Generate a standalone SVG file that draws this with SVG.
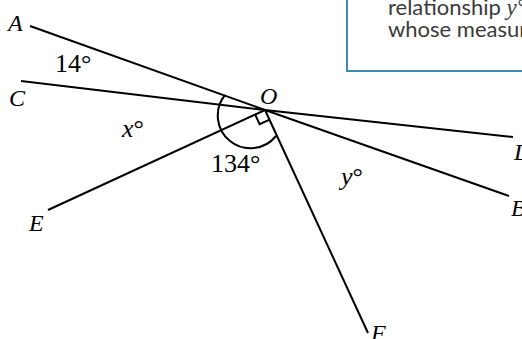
<svg xmlns="http://www.w3.org/2000/svg" width="522" height="339" viewBox="0 0 522 339">
<style>
.ln{stroke:#000;stroke-width:2;fill:none;stroke-linecap:butt}
.lbl{font-family:"Liberation Serif","DejaVu Serif",serif;font-style:italic;font-size:24px;fill:#000}
.num{font-family:"Liberation Serif","DejaVu Serif",serif;font-size:26px;fill:#000}
.it{font-style:italic}
.box{fill:#fff;stroke:#3a8cb8;stroke-width:2}
.bt{font-family:Lato,"Open Sans",sans-serif;font-size:22px;fill:#3a3a3a}
</style>
<rect width="522" height="339" fill="#fff"/>
<g id="note">
<rect class="box" x="347" y="-20" width="200" height="91"/>
<text class="bt" x="388" y="15">relationship <tspan font-family="Liberation Serif,serif" font-style="italic" font-size="23">y°</tspan></text>
<text class="bt" x="388" y="36.5">whose measur</text>
</g>
<g id="connectors">
<line id="OA" class="ln" x1="30" y1="26" x2="265" y2="110"/>
<line id="OB" class="ln" x1="265" y1="110" x2="509" y2="196"/>
<line id="OC" class="ln" x1="21" y1="81" x2="265" y2="110"/>
<line id="OD" class="ln" x1="265" y1="110" x2="513" y2="137"/>
<line id="OE" class="ln" x1="48" y1="210" x2="265" y2="110"/>
<line id="OF" class="ln" x1="265" y1="110" x2="368" y2="333"/>
<path id="arc134" class="ln" d="M225 95 A32 32 0 1 0 276 136"/>
<path id="rightangle" class="ln" d="M255 114.2 L259.6 124.2 L269.6 119.6"/>
</g>
<g id="node-A"><text class="lbl" x="8" y="31">A</text></g>
<g id="node-C"><text class="lbl" x="9" y="106">C</text></g>
<g id="node-O"><text class="lbl" x="260" y="104">O</text></g>
<g id="node-E"><text class="lbl" x="29" y="231">E</text></g>
<g id="node-F"><text class="lbl" x="371" y="341">F</text></g>
<g id="node-D"><text class="lbl" x="514" y="160">D</text></g>
<g id="node-B"><text class="lbl" x="511" y="216">B</text></g>
<g id="angles">
<text class="num" x="55" y="72">14°</text>
<text class="num" x="122" y="137"><tspan class="it">x</tspan>°</text>
<text class="num" x="211" y="172">134°</text>
<text class="num" x="341" y="185"><tspan class="it">y</tspan>°</text>
</g>
</svg>
